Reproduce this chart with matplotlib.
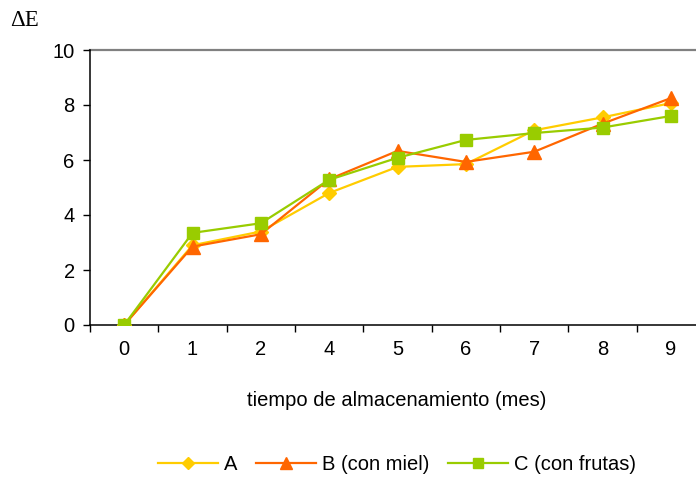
import matplotlib
matplotlib.use("Agg")
import matplotlib.pyplot as plt
import numpy as np

months = ["0", "1", "2", "4", "5", "6", "7", "8", "9"]
serie_a = [0.0, 2.9, 3.4, 4.8, 5.75, 5.85, 7.08, 7.55, 8.07]
serie_b = [0.0, 2.85, 3.3, 5.3, 6.33, 5.93, 6.3, 7.32, 8.25]
serie_c = [0.0, 3.35, 3.7, 5.28, 6.08, 6.73, 6.98, 7.18, 7.6]
labels = ["A", "B (con miel)", "C (con frutas)"]

plt.rcParams["font.family"] = ["Liberation Sans", "DejaVu Sans"]
fs = 14.5

fig = plt.figure(figsize=(6.96, 4.8), dpi=100)
ax = fig.add_axes([90 / 696, 155 / 480, 615 / 696, 275 / 480])

x = np.arange(len(months))
ax.plot(x, serie_a, color="#FFCC00", lw=1.6, marker="D", ms=7, label=labels[0], zorder=3)
ax.plot(x, serie_b, color="#FF6600", lw=1.6, marker="^", ms=10, label=labels[1], zorder=4)
ax.plot(x, serie_c, color="#99CC00", lw=1.6, marker="s", ms=9, label=labels[2], zorder=5)

ax.set_xlim(-0.5, len(months) - 0.5)
ax.set_ylim(0, 10)
ax.set_yticks([0, 2, 4, 6, 8, 10])
ax.set_xticks(x)
ax.set_xticklabels(months, fontsize=fs)
ax.set_xticks(np.arange(-0.5, len(months), 1.0), minor=True)
ax.tick_params(axis="x", which="major", length=0, pad=11)
ax.tick_params(axis="x", which="minor", length=5, width=1, direction="out")
ax.tick_params(axis="y", length=5, width=1, direction="out", labelsize=fs, pad=6)

ax.spines["top"].set_visible(False)
ax.spines["right"].set_visible(False)
ax.spines["left"].set_linewidth(1.1)
ax.spines["bottom"].set_linewidth(1.1)
ax.axhline(10, color="#808080", lw=1.6, zorder=1, clip_on=False)

fig.text(397 / 696, 1 - 400 / 480, "tiempo de almacenamiento (mes)", ha="center", va="center", fontsize=fs)
fig.text(10 / 696, 1 - 20 / 480, "ΔE", ha="left", va="center", fontsize=16.5,
         family=["Liberation Serif", "DejaVu Serif"])

fig.legend(loc="center", bbox_to_anchor=(397 / 696, 1 - 465 / 480), ncol=3, frameon=False,
           fontsize=fs, handlelength=3.0, handletextpad=0.3, columnspacing=0.9,
           markerscale=0.85)

fig.savefig("out.png", dpi=100)
